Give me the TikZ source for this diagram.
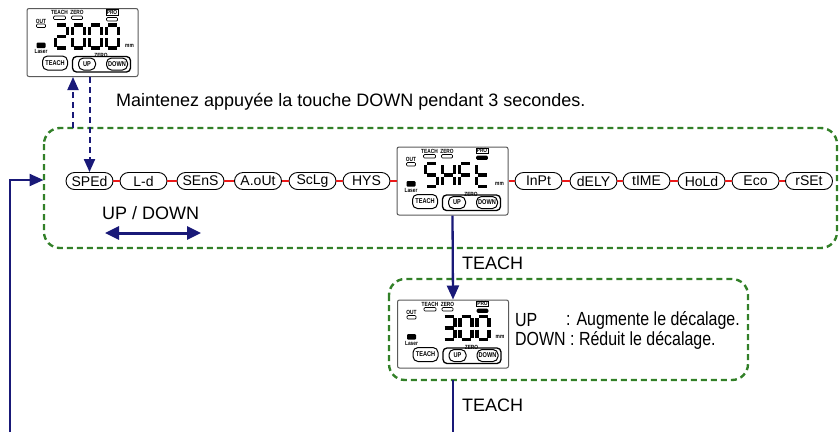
\documentclass[tikz,border=0pt]{standalone}
\usepackage{fontspec}
\setmainfont{Liberation Sans}
\usetikzlibrary{arrows.meta}

\definecolor{navyc}{RGB}{25,25,120}
\definecolor{linkred}{RGB}{235,25,25}
\definecolor{grpgreen}{RGB}{50,128,40}
\definecolor{framegray}{RGB}{90,90,90}

% one segment of a seven-segment digit whose left edge is at x=#1
\newcommand\lcdseg[2]{%
  \if a#2\draw[seg] (#1+1.5,17)--(#1+10.5,17);\fi
  \if b#2\draw[seg] (#1+12,18.5)--(#1+12,27);\fi
  \if c#2\draw[seg] (#1+12,30)--(#1+12,38.5);\fi
  \if d#2\draw[seg] (#1+1.5,40)--(#1+10.5,40);\fi
  \if e#2\draw[seg] (#1,30)--(#1,38.5);\fi
  \if f#2\draw[seg] (#1,18.5)--(#1,27);\fi
  \if g#2\draw[seg] (#1+1.5,28.5)--(#1+10.5,28.5);\fi}
\newcommand\lcdchar[2]{\foreach \s in {#2} {\lcdseg{#1}{\s}}}
\newcommand\narrow[1]{\scalebox{0.8}[1]{#1}}

% lamps, captions and keys of the sensor face; #1 = fill of the PRO lamp
\newcommand\lcdface[1]{%
  \node[tinylab] (teachcap) at (33,4.5) {\narrow{TEACH}};
  \node[tinylab] (zerocap) at (50.5,4.5) {\narrow{ZERO}};
  \node[tinylab, draw, line width=0.5pt, inner sep=0.6pt] (procap) at (85.5,4.3) {\narrow{PRO}};
  \node[tinylab] (outcap) at (14.5,13) {\narrow{OUT}};
  \node[tinylab] (lasercap) at (14.5,43.5) {\narrow{Laser}};
  \node[tinylab] (mmcap) at (103,37.5) {\narrow{mm}};
  \draw[lamp] (27,8) rectangle (39,11.5);
  \draw[lamp] (45,8) rectangle (56,11.5);
  \draw[lamp, fill=#1] (80,9.5) rectangle (91,13);
  \draw[lamp] (10,16) rectangle (19,19.5);
  \fill[rounded corners=1pt] (10,34.5) rectangle (19,40);
  \draw[key] (16,48) rectangle (41,62);
  \node[keylab] (teachkey) at (28.5,55) {\narrow{TEACH}};
  \draw[line width=1.3pt, rounded corners=4pt] (46,48.5) rectangle (104,64);
  \draw[key, fill=white] (52,50) rectangle (69,62);
  \node[keylab] (upkey) at (60.5,56) {\narrow{UP}};
  \draw[key, fill=white] (80,50) rectangle (101,62);
  \node[keylab] (downkey) at (90.5,56) {\narrow{DOWN}};
  \node[tinylab] (zerokeycap) at (74.5,47.5) {\narrow{ZERO}};}

\begin{document}
\begin{tikzpicture}[x=1pt, y=-1pt,
  item/.style={draw, line width=0.9pt, rounded corners=8.5pt, minimum width=47pt,
    minimum height=17pt, inner sep=0pt, fill=white, font=\fontsize{14}{16}\selectfont},
  link/.style={linkred, line width=2.6pt},
  grp/.style={grpgreen, line width=2.4pt, dash pattern=on 6pt off 4pt, rounded corners=16pt},
  flow/.style={navyc, line width=2.3pt, -{Triangle[length=14pt,width=12pt]}},
  hold/.style={navyc, line width=2pt, dash pattern=on 6pt off 4pt, -{Triangle[length=13pt,width=11pt]}},
  lcdframe/.style={draw=framegray, line width=1pt, rounded corners=2pt, minimum width=111pt,
    minimum height=68pt, inner sep=0pt, fill=white},
  seg/.style={line width=3.2pt},
  lamp/.style={line width=0.7pt, rounded corners=1pt},
  key/.style={line width=1pt, rounded corners=5pt},
  tinylab/.style={font=\fontsize{6}{6}\selectfont\bfseries, inner sep=0pt},
  keylab/.style={font=\fontsize{7}{7}\selectfont\bfseries, inner sep=0pt},
  caption/.style={font=\fontsize{18}{20}\selectfont, inner sep=0pt, anchor=west},
  narrowtext/.style={font=\fontsize{19}{21}\selectfont, inner sep=0pt, anchor=west}]
\useasboundingbox (0,0) rectangle (840,432);

% dashed group outlines
\draw[grp] (44,128) rectangle (837,248);
\draw[grp] (389,279) rectangle (748,380);

% display panels
\node[lcdframe] (home) at (82.5,42.5) {};
\begin{scope}[shift={(home.north west)}, name prefix=home-]
  \lcdface{white}
  \lcdchar{29}{a,b,g,e,d}
  \lcdchar{46}{a,b,c,d,e,f}
  \lcdchar{63}{a,b,c,d,e,f}
  \lcdchar{80}{a,b,c,d,e,f}
\end{scope}

\node[lcdframe] (shft) at (452.5,181) {};
\begin{scope}[shift={(shft.north west)}, name prefix=shft-]
  \lcdface{black}
  \lcdchar{29}{a,f,g,c,d}
  \lcdchar{46}{f,e,b,c,g}
  \lcdchar{63}{a,f,e,g}
  \lcdchar{80}{f,e,g,d}
\end{scope}

\node[lcdframe] (offset) at (453,334) {};
\begin{scope}[shift={(offset.north west)}, name prefix=offset-]
  \lcdface{black}
  \lcdchar{46}{a,b,g,c,d}
  \lcdchar{63}{a,b,c,d,e,f}
  \lcdchar{80}{a,b,c,d,e,f}
\end{scope}

% menu items
\node[item] (sped) at (89.5,181) {SPEd};
\node[item] (ld) at (143.5,181) {L-d};
\node[item] (sens) at (200.5,181) {SEnS};
\node[item] (aout) at (258,181) {A.oUt};
\node[item] (sclg) at (312.5,181) {ScLg};
\node[item] (hys) at (366.5,181) {HYS};
\node[item] (inpt) at (538.5,181) {InPt};
\node[item] (dely) at (593.5,181) {dELY};
\node[item] (time) at (646.5,181) {tIME};
\node[item] (hold) at (701.5,181) {HoLd};
\node[item] (eco) at (755.5,181) {Eco};
\node[item] (rset) at (809,181) {rSEt};

% red links along the menu row
\foreach \a/\b in {sped/ld, ld/sens, sens/aout, aout/sclg, sclg/hys, hys/shft,
                   shft/inpt, inpt/dely, dely/time, time/hold, hold/eco, eco/rset}
  \draw[link] (\a.east) -- (\b.west);

% entering and leaving the menu
\coordinate (menutop) at (73,128);
\draw[hold] (menutop) -- (menutop |- home.south);
\draw[hold] (home.south -| sped.north) -- (sped.north);
\node[caption] (holdnote) at (116,102) {Maintenez appuyée la touche DOWN pendant 3 secondes.};

% UP / DOWN scrolling
\node[caption] (scrollcap) at (102,213) {UP / DOWN};
\coordinate (scrollL) at (105,233);
\coordinate (scrollR) at (201,233);
\draw[navyc, line width=3pt, {Triangle[length=14pt,width=13pt]}-{Triangle[length=14pt,width=13pt]}] (scrollL) -- (scrollR);

% TEACH steps
\draw[flow] (shft.south) -- (offset.north);
\node[caption] (teach1) at (462,263) {TEACH};
\coordinate (grpbottom) at (453,380);
\coordinate (exitend) at (453,432);
\draw[navyc, line width=2.3pt] (grpbottom) -- (exitend);
\node[caption] (teach2) at (462,405) {TEACH};

% offset adjustment notes
\node[narrowtext] (upnote) at (515,320) {\scalebox{0.84}[1]{UP}};
\node[narrowtext] (upnote2) at (566,320) {\scalebox{0.84}[1]{: Augmente le décalage.}};
\node[narrowtext] (downnote) at (515,340) {\scalebox{0.84}[1]{DOWN : Réduit le décalage.}};

% return path into the menu
\coordinate (backstart) at (10,432);
\coordinate (menuleft) at (43.5,180);
\draw[flow] (backstart) |- (menuleft);
\end{tikzpicture}
\end{document}
